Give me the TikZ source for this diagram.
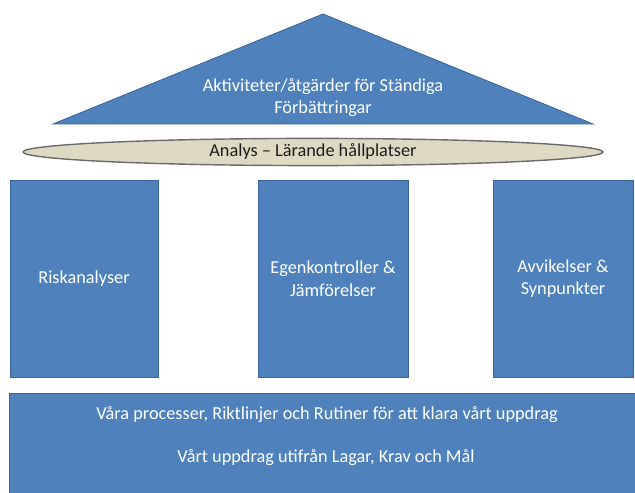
\documentclass[tikz,border=0pt]{standalone}
\usepackage{fontspec}
\setmainfont{Carlito}
\usetikzlibrary{shapes.geometric}
\definecolor{pillarblue}{HTML}{4F81BD}
\definecolor{pillaredge}{HTML}{3A659A}
\definecolor{beamfill}{HTML}{DDD9C3}
\definecolor{beamedge}{HTML}{6B6B6B}
\definecolor{ink}{HTML}{1E1E1E}
\tikzset{
  every node/.style={font=\fontsize{13}{16}\selectfont},
  pillar/.style={draw=pillaredge, line width=0.6pt, fill=pillarblue, text=white,
                 align=center, minimum width=3.7cm, minimum height=4.925cm,
                 inner sep=0pt},
  roof/.style={draw=pillaredge, line width=0.6pt, fill=pillarblue},
  beam/.style={ellipse, draw=beamedge, line width=1pt, fill=beamfill, text=ink,
               minimum width=14.5cm, minimum height=0.68cm, inner sep=0pt},
  found/.style={draw=pillaredge, line width=0.6pt, fill=pillarblue},
  lbl/.style={text=white, align=center, inner sep=0pt},
}

\begin{document}
\begin{tikzpicture}
\useasboundingbox (0,0) rectangle (15.875,12.325);
\clip (0,0) rectangle (15.875,12.325);

% --- roof ---
\draw[roof] (8.075,11.975) -- (14.825,9.225) -- (1.325,9.225) -- cycle;
\node[lbl] (roofA) at (8.075,10.15) {Aktiviteter/åtgärder för Ständiga};
\node[lbl] (roofB) at (8.075,9.6) {Förbättringar};

% --- beam ---
\node[beam] (beam) at (7.825,8.525) {Analys – Lärande hållplatser};

% --- pillars ---
\node[pillar] (risk) at (2.1,5.3625) {Riskanalyser};
\node[pillar, minimum width=3.75cm] (egen) at (8.325,5.3625) {Egenkontroller \&\\Jämförelser};
\node[pillar, minimum width=3.5cm] (avvik) at (14.075,5.3625) {Avvikelser \&\\Synpunkter};

% --- foundation ---
\draw[found] (0.225,-0.3) rectangle (16.2,2.5);
\node[lbl] (procs) at (8.175,1.95) {Våra processer, Riktlinjer och Rutiner för att klara vårt uppdrag};
\node[lbl] (uppdrag) at (8.15,0.875) {Vårt uppdrag utifrån Lagar, Krav och Mål};

\end{tikzpicture}
\end{document}
